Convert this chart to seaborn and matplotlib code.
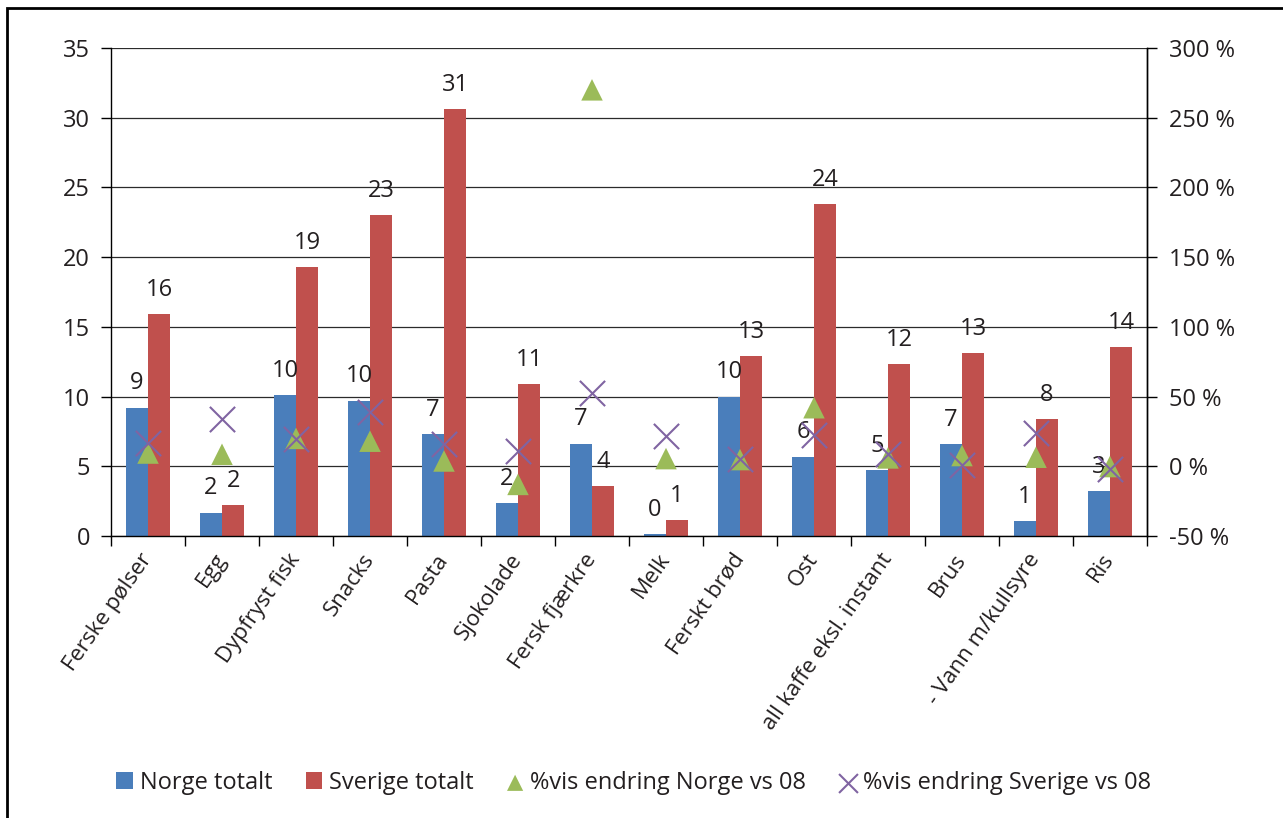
import numpy as np
import pandas as pd
import matplotlib
matplotlib.use("Agg")
import matplotlib.pyplot as plt
from matplotlib.patches import Rectangle
from matplotlib.ticker import FixedLocator, FuncFormatter, MultipleLocator
import seaborn as sns

# Product categories
categories = [
    "Ferske pølser", "Egg", "Dypfryst fisk", "Snacks", "Pasta", "Sjokolade",
    "Fersk fjærkre", "Melk", "Ferskt brød", "Ost", "all kaffe eksl. instant",
    "Brus", "- Vann m/kullsyre", "Ris",
]

# Totals (left axis)
norge_totalt = [9.2, 1.65, 10.1, 9.7, 7.3, 2.35, 6.63, 0.12, 10.0, 5.67, 4.71, 6.58, 1.05, 3.2]
sverige_totalt = [15.92, 2.22, 19.26, 23.0, 30.6, 10.88, 3.57, 1.13, 12.89, 23.8, 12.32, 13.1, 8.37, 13.54]

# Percentage change vs 2008 (right axis)
endring_norge = [9.5, 8.6, 20, 18, 3.8, -13, 270, 5.5, 4.8, 42, 6, 7.7, 6.5, -0.2]
endring_sverige = [17, 33.7, 19.4, 39, 15.8, 10.8, 52.9, 21.7, 5.5, 22.7, 9, 1.2, 24, -2.2]

series_names = ["Norge totalt", "Sverige totalt",
                "%vis endring Norge vs 08", "%vis endring Sverige vs 08"]

BLUE = "#4A7EBB"
RED = "#C0504D"
GREEN = "#9BBB59"
PURPLE = "#8064A2"
GRID = "#2b2b2b"
FONT = 17

sns.set_theme(style="white")
plt.rcParams["font.family"] = ["Open Sans", "DejaVu Sans"]
plt.rcParams["text.color"] = "#231f20"
plt.rcParams["axes.labelcolor"] = "#231f20"
plt.rcParams["xtick.color"] = "#231f20"
plt.rcParams["ytick.color"] = "#231f20"

df = pd.DataFrame({
    "kategori": categories * 2,
    "verdi": norge_totalt + sverige_totalt,
    "serie": [series_names[0]] * len(categories) + [series_names[1]] * len(categories),
})

fig = plt.figure(figsize=(12.83, 8.18), dpi=100)
ax = fig.add_axes([111 / 1283, 1 - 536 / 818, (1147 - 111) / 1283, (536 - 48) / 818])

sns.barplot(data=df, x="kategori", y="verdi", hue="serie", order=categories,
            hue_order=series_names[:2], palette=[BLUE, RED], width=0.6,
            saturation=1, gap=0, ax=ax, legend=True, linewidth=0)

ax.set_ylim(0, 35)
ax.set_xlim(-0.5, len(categories) - 0.5)
ax.set_xlabel("")
ax.set_ylabel("")
ax.yaxis.set_major_locator(MultipleLocator(5))
ax.grid(axis="y", color=GRID, linewidth=0.9)
ax.set_axisbelow(True)

# value labels above each bar
for cont in ax.containers:
    ax.bar_label(cont, fmt="%.0f", padding=9, fontsize=FONT, color="#231f20")

# ticks: labels at category centres, tick marks at category boundaries
pos = np.arange(len(categories))
ax.set_xticks(pos)
ax.set_xticklabels(categories, rotation=55, ha="right", va="center",
                   rotation_mode="anchor", fontsize=16)
ax.tick_params(axis="x", which="major", length=0, pad=14)
ax.xaxis.set_minor_locator(FixedLocator(np.arange(-0.5, len(categories), 1.0)))
ax.tick_params(axis="x", which="minor", bottom=True, length=7, width=1, color="black", direction="out")
ax.tick_params(axis="y", left=True, length=7, width=1, color="black", direction="out",
               labelsize=FONT, pad=8)

for side in ["left", "bottom", "right"]:
    ax.spines[side].set_visible(True)
    ax.spines[side].set_color("black")
    ax.spines[side].set_linewidth(1)
ax.spines["top"].set_visible(False)

# percentage axis
ax2 = ax.twinx()
ax2.set_ylim(-50, 300)
ax2.yaxis.set_major_locator(MultipleLocator(50))
ax2.yaxis.set_major_formatter(FuncFormatter(lambda v, p: f"{v:.0f} %"))
ax2.tick_params(axis="y", right=True, length=7, width=1, color="black", direction="out",
                labelsize=FONT, pad=9)
for side in ["top", "left", "bottom"]:
    ax2.spines[side].set_visible(False)
ax2.spines["right"].set_color("black")
ax2.spines["right"].set_linewidth(1)

sns.scatterplot(x=pos, y=endring_norge, marker="^", s=240, color=GREEN,
                edgecolor="none", ax=ax2, label=series_names[2], zorder=3)
sns.scatterplot(x=pos, y=endring_sverige, marker="x", s=330, color=PURPLE,
                linewidth=1.5, ax=ax2, label=series_names[3], zorder=4)
ax2.set_xlim(-0.5, len(categories) - 0.5)

h1, l1 = ax.get_legend_handles_labels()
h2, l2 = ax2.get_legend_handles_labels()
if ax.get_legend() is not None:
    ax.get_legend().remove()
if ax2.get_legend() is not None:
    ax2.get_legend().remove()

fig.legend(h1 + h2, l1 + l2, loc="center", bbox_to_anchor=(0.494, 1 - 783 / 818),
           ncol=4, frameon=False, fontsize=FONT, handlelength=0.7, handleheight=0.7,
           handletextpad=0.3, columnspacing=1.4, markerscale=0.75)

# outer frame
fig.patches.append(Rectangle((7 / 1283, -0.1), 1.2, 1 - 8 / 818 + 0.1,
                             transform=fig.transFigure, fill=False,
                             edgecolor="black", linewidth=2, zorder=10))

fig.savefig("out.png", dpi=100)
